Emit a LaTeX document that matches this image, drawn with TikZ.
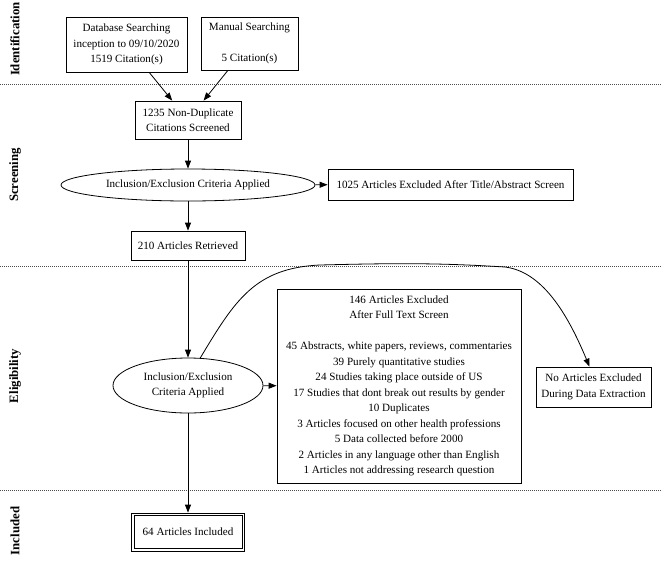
\documentclass[tikz,border=0pt]{standalone}
\usepackage{fontspec}
\setmainfont{Liberation Serif}
\usetikzlibrary{shapes.geometric}
\usetikzlibrary{arrows.meta}

\begin{document}
\begin{tikzpicture}[x=1pt,y=-1pt,
        every node/.style={font=\fontsize{11.1}{15.5}\selectfont},
        box/.style={draw,rectangle,line width=0.8pt,inner sep=0pt,align=center},
        crit/.style={draw,ellipse,line width=0.8pt,inner sep=0pt,align=center},
        phase/.style={rotate=90,font=\fontsize{12.8}{15}\selectfont\bfseries},
        sep/.style={gray!60!black,line width=0.6pt,dash pattern=on 0.8pt off 1.2pt},
        flow/.style={line width=0.8pt,-{Triangle[length=8pt,width=6pt]}}]
    \useasboundingbox (0,0) rectangle (661,563);

    % phase separators
    \foreach \y in {84,266,490}{
        \draw[sep] (0,\y) -- (661,\y);
    };
    \node[phase] (ident) at (15,39) {Identification};
    \node[phase] (screen) at (15,175) {Screening};
    \node[phase] (elig) at (15,376) {Eligibility};
    \node[phase] (incl) at (15,531) {Included};

    % identification
    \node[box,minimum width=121,minimum height=55] (db) at (126.5,44.5)
        {Database Searching\\inception to 09/10/2020\\1519 Citation(s)};
    \node[box,minimum width=97,minimum height=53] (manual) at (249.5,43.5)
        {Manual Searching\\[15.5pt]5 Citation(s)};

    % screening
    \node[box,minimum width=106,minimum height=38] (nondup) at (188,120)
        {1235 Non-Duplicate\\Citations Screened};
    \node[crit,minimum width=254,minimum height=32] (crit1) at (188,185)
        {Inclusion/Exclusion Criteria Applied};
    \node[box,minimum width=245,minimum height=31] (excl1) at (450.5,184.5)
        {1025 Articles Excluded After Title/Abstract Screen};
    \node[box,minimum width=114,minimum height=29] (retr) at (188,245.5)
        {210 Articles Retrieved};

    % eligibility
    \node[crit,minimum width=150,minimum height=55] (crit2) at (188,385.5)
        {Inclusion/Exclusion\\Criteria Applied};
    \node[box,minimum width=244,minimum height=194] (fulltext) at (399,386)
        {146 Articles Excluded\\After Full Text Screen\\[15.5pt]
         45 Abstracts, white papers, reviews, commentaries\\
         39 Purely quantitative studies\\
         24 Studies taking place outside of US\\
         17 Studies that dont break out results by gender\\
         10 Duplicates\\
         3 Articles focused on other health professions\\
         5 Data collected before 2000\\
         2 Articles in any language other than English\\
         1 Articles not addressing research question};
    \node[box,minimum width=115,minimum height=40] (noext) at (593.5,387)
        {No Articles Excluded\\During Data Extraction};

    % included (double frame)
    \node[box,minimum width=113,minimum height=38] (final) at (188,532)
        {64 Articles Included};
    \draw[line width=0.8pt] ([xshift=3pt,yshift=-3pt]final.north west)
        rectangle ([xshift=-3pt,yshift=3pt]final.south east);

    \draw[flow] (db) -- (nondup);
    \draw[flow] (manual) -- (nondup);
    \draw[flow] (nondup) -- (crit1);
    \draw[flow] (crit1) -- (excl1);
    \draw[flow] (crit1) -- (retr);
    \draw[flow] (retr) -- (crit2);
    \draw[flow] (crit2) -- (fulltext);
    \draw[flow] (crit2) -- (final);
    \draw[flow] (crit2.66) .. controls (235,300) and (255,268) .. (320,265)
        .. controls (400,263) and (440,263) .. (505,267)
        .. controls (545,272) and (570,320) .. ([xshift=-4pt]noext.north);
\end{tikzpicture}
\end{document}
